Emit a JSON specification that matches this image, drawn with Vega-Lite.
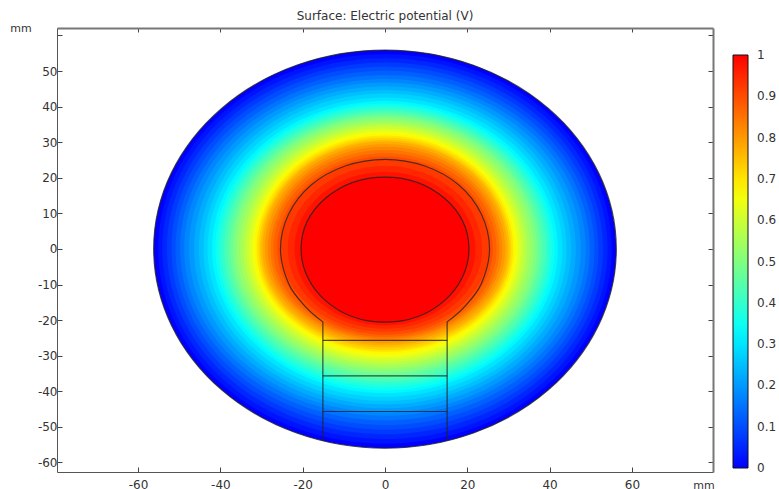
{"$schema":"https://vega.github.io/schema/vega-lite/v6.json","width":656,"height":444,"autosize":"none","padding":{"left":57,"top":28,"right":66,"bottom":17},"background":"white",
"title":{"text":"Surface: Electric potential (V)","font":"DejaVu Sans","fontSize":12,"fontWeight":"normal","color":"#333","anchor":"middle","offset":-1},
"config":{"view":{"stroke":null},"axis":{"grid":false,"labelFont":"DejaVu Sans","labelFontSize":12,"labelColor":"#333","titleFont":"DejaVu Sans","titleFontSize":11,"titleFontWeight":"normal","titleColor":"#333","domainColor":"#555","tickColor":"#444"}},
"resolve":{"axis":{"x":"independent","y":"independent"}},
"layer":[
{"data":{"values":[
{"v":0,"i":0,"x":56.2,"y":0},{"v":0,"i":1,"x":39.7,"y":39.5},{"v":0,"i":2,"x":0,"y":55.9},{"v":0,"i":3,"x":-39.7,"y":39.5},{"v":0,"i":4,"x":-56.2,"y":0},{"v":0,"i":5,"x":-39.7,"y":-39.6},{"v":0,"i":6,"x":0,"y":-56},{"v":0,"i":7,"x":39.7,"y":-39.6},
{"v":0.025,"i":0,"x":55.1,"y":0},{"v":0.025,"i":1,"x":39,"y":38.7},{"v":0.025,"i":2,"x":0,"y":54.7},{"v":0.025,"i":3,"x":-39,"y":38.7},{"v":0.025,"i":4,"x":-55.1,"y":0},{"v":0.025,"i":5,"x":-39,"y":-38.7},{"v":0.025,"i":6,"x":0,"y":-54.7},{"v":0.025,"i":7,"x":39,"y":-38.7},
{"v":0.05,"i":0,"x":54.1,"y":0},{"v":0.05,"i":1,"x":38.2,"y":37.9},{"v":0.05,"i":2,"x":0,"y":53.6},{"v":0.05,"i":3,"x":-38.2,"y":37.9},{"v":0.05,"i":4,"x":-54.1,"y":0},{"v":0.05,"i":5,"x":-38.2,"y":-37.8},{"v":0.05,"i":6,"x":0,"y":-53.4},{"v":0.05,"i":7,"x":38.2,"y":-37.8},
{"v":0.075,"i":0,"x":53,"y":0},{"v":0.075,"i":1,"x":37.5,"y":37},{"v":0.075,"i":2,"x":0,"y":52.4},{"v":0.075,"i":3,"x":-37.5,"y":37},{"v":0.075,"i":4,"x":-53,"y":0},{"v":0.075,"i":5,"x":-37.5,"y":-36.8},{"v":0.075,"i":6,"x":0,"y":-52.1},{"v":0.075,"i":7,"x":37.5,"y":-36.8},
{"v":0.1,"i":0,"x":51.9,"y":0},{"v":0.1,"i":1,"x":36.7,"y":36.3},{"v":0.1,"i":2,"x":0,"y":51.3},{"v":0.1,"i":3,"x":-36.7,"y":36.3},{"v":0.1,"i":4,"x":-51.9,"y":0},{"v":0.1,"i":5,"x":-36.7,"y":-35.9},{"v":0.1,"i":6,"x":0,"y":-50.8},{"v":0.1,"i":7,"x":36.7,"y":-35.9},
{"v":0.125,"i":0,"x":50.9,"y":0},{"v":0.125,"i":1,"x":36,"y":35.4},{"v":0.125,"i":2,"x":0,"y":50.1},{"v":0.125,"i":3,"x":-36,"y":35.4},{"v":0.125,"i":4,"x":-50.9,"y":0},{"v":0.125,"i":5,"x":-36,"y":-35},{"v":0.125,"i":6,"x":0,"y":-49.5},{"v":0.125,"i":7,"x":36,"y":-35},
{"v":0.15,"i":0,"x":49.8,"y":0},{"v":0.15,"i":1,"x":35.2,"y":34.6},{"v":0.15,"i":2,"x":0,"y":48.9},{"v":0.15,"i":3,"x":-35.2,"y":34.6},{"v":0.15,"i":4,"x":-49.8,"y":0},{"v":0.15,"i":5,"x":-35.2,"y":-34.1},{"v":0.15,"i":6,"x":0,"y":-48.2},{"v":0.15,"i":7,"x":35.2,"y":-34.1},
{"v":0.175,"i":0,"x":48.8,"y":0},{"v":0.175,"i":1,"x":34.5,"y":33.8},{"v":0.175,"i":2,"x":0,"y":47.8},{"v":0.175,"i":3,"x":-34.5,"y":33.8},{"v":0.175,"i":4,"x":-48.8,"y":0},{"v":0.175,"i":5,"x":-34.5,"y":-33.2},{"v":0.175,"i":6,"x":0,"y":-46.9},{"v":0.175,"i":7,"x":34.5,"y":-33.2},
{"v":0.2,"i":0,"x":47.6,"y":0},{"v":0.2,"i":1,"x":33.7,"y":33.1},{"v":0.2,"i":2,"x":0,"y":46.8},{"v":0.2,"i":3,"x":-33.7,"y":33.1},{"v":0.2,"i":4,"x":-47.6,"y":0},{"v":0.2,"i":5,"x":-33.7,"y":-32.5},{"v":0.2,"i":6,"x":0,"y":-45.9},{"v":0.2,"i":7,"x":33.7,"y":-32.5},
{"v":0.225,"i":0,"x":46.4,"y":0},{"v":0.225,"i":1,"x":32.8,"y":32.3},{"v":0.225,"i":2,"x":0,"y":45.7},{"v":0.225,"i":3,"x":-32.8,"y":32.3},{"v":0.225,"i":4,"x":-46.4,"y":0},{"v":0.225,"i":5,"x":-32.8,"y":-31.7},{"v":0.225,"i":6,"x":0,"y":-44.8},{"v":0.225,"i":7,"x":32.8,"y":-31.7},
{"v":0.25,"i":0,"x":45.2,"y":0},{"v":0.25,"i":1,"x":32,"y":31.6},{"v":0.25,"i":2,"x":0,"y":44.7},{"v":0.25,"i":3,"x":-32,"y":31.6},{"v":0.25,"i":4,"x":-45.2,"y":0},{"v":0.25,"i":5,"x":-32,"y":-30.9},{"v":0.25,"i":6,"x":0,"y":-43.7},{"v":0.25,"i":7,"x":32,"y":-30.9},
{"v":0.275,"i":0,"x":44.1,"y":0},{"v":0.275,"i":1,"x":31.2,"y":30.9},{"v":0.275,"i":2,"x":0,"y":43.7},{"v":0.275,"i":3,"x":-31.2,"y":30.9},{"v":0.275,"i":4,"x":-44.1,"y":0},{"v":0.275,"i":5,"x":-31.2,"y":-30.2},{"v":0.275,"i":6,"x":0,"y":-42.7},{"v":0.275,"i":7,"x":31.2,"y":-30.2},
{"v":0.3,"i":0,"x":43.1,"y":0},{"v":0.3,"i":1,"x":30.5,"y":30.1},{"v":0.3,"i":2,"x":0,"y":42.6},{"v":0.3,"i":3,"x":-30.5,"y":30.1},{"v":0.3,"i":4,"x":-43.1,"y":0},{"v":0.3,"i":5,"x":-30.5,"y":-29.4},{"v":0.3,"i":6,"x":0,"y":-41.6},{"v":0.3,"i":7,"x":30.5,"y":-29.4},
{"v":0.325,"i":0,"x":42,"y":0},{"v":0.325,"i":1,"x":29.7,"y":29.4},{"v":0.325,"i":2,"x":0,"y":41.6},{"v":0.325,"i":3,"x":-29.7,"y":29.4},{"v":0.325,"i":4,"x":-42,"y":0},{"v":0.325,"i":5,"x":-29.7,"y":-28.6},{"v":0.325,"i":6,"x":0,"y":-40.5},{"v":0.325,"i":7,"x":29.7,"y":-28.6},
{"v":0.35,"i":0,"x":41.2,"y":0},{"v":0.35,"i":1,"x":29.1,"y":28.9},{"v":0.35,"i":2,"x":0,"y":40.9},{"v":0.35,"i":3,"x":-29.1,"y":28.9},{"v":0.35,"i":4,"x":-41.2,"y":0},{"v":0.35,"i":5,"x":-29.1,"y":-28.1},{"v":0.35,"i":6,"x":0,"y":-39.7},{"v":0.35,"i":7,"x":29.1,"y":-28.1},
{"v":0.375,"i":0,"x":40.5,"y":0},{"v":0.375,"i":1,"x":28.6,"y":28.5},{"v":0.375,"i":2,"x":0,"y":40.3},{"v":0.375,"i":3,"x":-28.6,"y":28.5},{"v":0.375,"i":4,"x":-40.5,"y":0},{"v":0.375,"i":5,"x":-28.6,"y":-27.5},{"v":0.375,"i":6,"x":0,"y":-38.9},{"v":0.375,"i":7,"x":28.6,"y":-27.5},
{"v":0.4,"i":0,"x":39.8,"y":0},{"v":0.4,"i":1,"x":28.1,"y":28},{"v":0.4,"i":2,"x":0,"y":39.6},{"v":0.4,"i":3,"x":-28.1,"y":28},{"v":0.4,"i":4,"x":-39.8,"y":0},{"v":0.4,"i":5,"x":-28.1,"y":-26.9},{"v":0.4,"i":6,"x":0,"y":-38.1},{"v":0.4,"i":7,"x":28.1,"y":-26.9},
{"v":0.425,"i":0,"x":39.1,"y":0},{"v":0.425,"i":1,"x":27.6,"y":27.6},{"v":0.425,"i":2,"x":0,"y":39},{"v":0.425,"i":3,"x":-27.6,"y":27.6},{"v":0.425,"i":4,"x":-39.1,"y":0},{"v":0.425,"i":5,"x":-27.6,"y":-26.4},{"v":0.425,"i":6,"x":0,"y":-37.3},{"v":0.425,"i":7,"x":27.6,"y":-26.4},
{"v":0.45,"i":0,"x":38.3,"y":0},{"v":0.45,"i":1,"x":27.1,"y":27.1},{"v":0.45,"i":2,"x":0,"y":38.4},{"v":0.45,"i":3,"x":-27.1,"y":27.1},{"v":0.45,"i":4,"x":-38.3,"y":0},{"v":0.45,"i":5,"x":-27.1,"y":-25.8},{"v":0.45,"i":6,"x":0,"y":-36.5},{"v":0.45,"i":7,"x":27.1,"y":-25.8},
{"v":0.475,"i":0,"x":37.6,"y":0},{"v":0.475,"i":1,"x":26.6,"y":26.7},{"v":0.475,"i":2,"x":0,"y":37.8},{"v":0.475,"i":3,"x":-26.6,"y":26.7},{"v":0.475,"i":4,"x":-37.6,"y":0},{"v":0.475,"i":5,"x":-26.6,"y":-25.2},{"v":0.475,"i":6,"x":0,"y":-35.7},{"v":0.475,"i":7,"x":26.6,"y":-25.2},
{"v":0.5,"i":0,"x":36.9,"y":0},{"v":0.5,"i":1,"x":26.1,"y":26.3},{"v":0.5,"i":2,"x":0,"y":37.2},{"v":0.5,"i":3,"x":-26.1,"y":26.3},{"v":0.5,"i":4,"x":-36.9,"y":0},{"v":0.5,"i":5,"x":-26.1,"y":-24.7},{"v":0.5,"i":6,"x":0,"y":-34.9},{"v":0.5,"i":7,"x":26.1,"y":-24.7},
{"v":0.525,"i":0,"x":36.1,"y":0},{"v":0.525,"i":1,"x":25.5,"y":25.8},{"v":0.525,"i":2,"x":0,"y":36.5},{"v":0.525,"i":3,"x":-25.5,"y":25.8},{"v":0.525,"i":4,"x":-36.1,"y":0},{"v":0.525,"i":5,"x":-25.5,"y":-24.1},{"v":0.525,"i":6,"x":0,"y":-34.1},{"v":0.525,"i":7,"x":25.5,"y":-24.1},
{"v":0.55,"i":0,"x":35.2,"y":0},{"v":0.55,"i":1,"x":24.9,"y":25.3},{"v":0.55,"i":2,"x":0,"y":35.8},{"v":0.55,"i":3,"x":-24.9,"y":25.3},{"v":0.55,"i":4,"x":-35.2,"y":0},{"v":0.55,"i":5,"x":-24.9,"y":-23.6},{"v":0.55,"i":6,"x":0,"y":-33.4},{"v":0.55,"i":7,"x":24.9,"y":-23.6},
{"v":0.575,"i":0,"x":34.4,"y":0},{"v":0.575,"i":1,"x":24.3,"y":24.8},{"v":0.575,"i":2,"x":0,"y":35.1},{"v":0.575,"i":3,"x":-24.3,"y":24.8},{"v":0.575,"i":4,"x":-34.4,"y":0},{"v":0.575,"i":5,"x":-24.3,"y":-23},{"v":0.575,"i":6,"x":0,"y":-32.6},{"v":0.575,"i":7,"x":24.3,"y":-23},
{"v":0.6,"i":0,"x":33.7,"y":0},{"v":0.6,"i":1,"x":23.8,"y":24.4},{"v":0.6,"i":2,"x":0,"y":34.5},{"v":0.6,"i":3,"x":-23.8,"y":24.4},{"v":0.6,"i":4,"x":-33.7,"y":0},{"v":0.6,"i":5,"x":-23.8,"y":-22.6},{"v":0.6,"i":6,"x":0,"y":-31.9},{"v":0.6,"i":7,"x":23.8,"y":-22.6},
{"v":0.625,"i":0,"x":33,"y":0},{"v":0.625,"i":1,"x":23.3,"y":23.9},{"v":0.625,"i":2,"x":0,"y":33.8},{"v":0.625,"i":3,"x":-23.3,"y":23.9},{"v":0.625,"i":4,"x":-33,"y":0},{"v":0.625,"i":5,"x":-23.3,"y":-22},{"v":0.625,"i":6,"x":0,"y":-31.1},{"v":0.625,"i":7,"x":23.3,"y":-22},
{"v":0.65,"i":0,"x":32.3,"y":0},{"v":0.65,"i":1,"x":22.8,"y":23.4},{"v":0.65,"i":2,"x":0,"y":33.1},{"v":0.65,"i":3,"x":-22.8,"y":23.4},{"v":0.65,"i":4,"x":-32.3,"y":0},{"v":0.65,"i":5,"x":-22.8,"y":-21.5},{"v":0.65,"i":6,"x":0,"y":-30.4},{"v":0.65,"i":7,"x":22.8,"y":-21.5},
{"v":0.675,"i":0,"x":31.7,"y":0},{"v":0.675,"i":1,"x":22.4,"y":23},{"v":0.675,"i":2,"x":0,"y":32.5},{"v":0.675,"i":3,"x":-22.4,"y":23},{"v":0.675,"i":4,"x":-31.7,"y":0},{"v":0.675,"i":5,"x":-22.4,"y":-20.9},{"v":0.675,"i":6,"x":0,"y":-29.6},{"v":0.675,"i":7,"x":22.4,"y":-20.9},
{"v":0.7,"i":0,"x":31.2,"y":0},{"v":0.7,"i":1,"x":22.1,"y":22.6},{"v":0.7,"i":2,"x":0,"y":31.9},{"v":0.7,"i":3,"x":-22.1,"y":22.6},{"v":0.7,"i":4,"x":-31.2,"y":0},{"v":0.7,"i":5,"x":-22.1,"y":-20.5},{"v":0.7,"i":6,"x":0,"y":-29},{"v":0.7,"i":7,"x":22.1,"y":-20.5},
{"v":0.725,"i":0,"x":30.7,"y":0},{"v":0.725,"i":1,"x":21.7,"y":22.1},{"v":0.725,"i":2,"x":0,"y":31.3},{"v":0.725,"i":3,"x":-21.7,"y":22.1},{"v":0.725,"i":4,"x":-30.7,"y":0},{"v":0.725,"i":5,"x":-21.7,"y":-20.1},{"v":0.725,"i":6,"x":0,"y":-28.4},{"v":0.725,"i":7,"x":21.7,"y":-20.1},
{"v":0.75,"i":0,"x":30.3,"y":0},{"v":0.75,"i":1,"x":21.4,"y":21.7},{"v":0.75,"i":2,"x":0,"y":30.7},{"v":0.75,"i":3,"x":-21.4,"y":21.7},{"v":0.75,"i":4,"x":-30.3,"y":0},{"v":0.75,"i":5,"x":-21.4,"y":-19.6},{"v":0.75,"i":6,"x":0,"y":-27.7},{"v":0.75,"i":7,"x":21.4,"y":-19.6},
{"v":0.775,"i":0,"x":29.8,"y":0},{"v":0.775,"i":1,"x":21.1,"y":21.4},{"v":0.775,"i":2,"x":0,"y":30.2},{"v":0.775,"i":3,"x":-21.1,"y":21.4},{"v":0.775,"i":4,"x":-29.8,"y":0},{"v":0.775,"i":5,"x":-21.1,"y":-19.2},{"v":0.775,"i":6,"x":0,"y":-27.1},{"v":0.775,"i":7,"x":21.1,"y":-19.2},
{"v":0.8,"i":0,"x":29.2,"y":0},{"v":0.8,"i":1,"x":20.6,"y":20.9},{"v":0.8,"i":2,"x":0,"y":29.5},{"v":0.8,"i":3,"x":-20.6,"y":20.9},{"v":0.8,"i":4,"x":-29.2,"y":0},{"v":0.8,"i":5,"x":-20.6,"y":-18.7},{"v":0.8,"i":6,"x":0,"y":-26.5},{"v":0.8,"i":7,"x":20.6,"y":-18.7},
{"v":0.825,"i":0,"x":28.5,"y":0},{"v":0.825,"i":1,"x":20.1,"y":20.3},{"v":0.825,"i":2,"x":0,"y":28.7},{"v":0.825,"i":3,"x":-20.1,"y":20.3},{"v":0.825,"i":4,"x":-28.5,"y":0},{"v":0.825,"i":5,"x":-20.1,"y":-18.2},{"v":0.825,"i":6,"x":0,"y":-25.8},{"v":0.825,"i":7,"x":20.1,"y":-18.2},
{"v":0.85,"i":0,"x":27.8,"y":0},{"v":0.85,"i":1,"x":19.7,"y":19.7},{"v":0.85,"i":2,"x":0,"y":27.8},{"v":0.85,"i":3,"x":-19.7,"y":19.7},{"v":0.85,"i":4,"x":-27.8,"y":0},{"v":0.85,"i":5,"x":-19.7,"y":-17.9},{"v":0.85,"i":6,"x":0,"y":-25.3},{"v":0.85,"i":7,"x":19.7,"y":-17.9},
{"v":0.875,"i":0,"x":27.1,"y":0},{"v":0.875,"i":1,"x":19.2,"y":19},{"v":0.875,"i":2,"x":0,"y":26.9},{"v":0.875,"i":3,"x":-19.2,"y":19},{"v":0.875,"i":4,"x":-27.1,"y":0},{"v":0.875,"i":5,"x":-19.2,"y":-17.5},{"v":0.875,"i":6,"x":0,"y":-24.7},{"v":0.875,"i":7,"x":19.2,"y":-17.5},
{"v":0.9,"i":0,"x":26.2,"y":0},{"v":0.9,"i":1,"x":18.5,"y":18.4},{"v":0.9,"i":2,"x":0,"y":26},{"v":0.9,"i":3,"x":-18.5,"y":18.4},{"v":0.9,"i":4,"x":-26.2,"y":0},{"v":0.9,"i":5,"x":-18.5,"y":-17},{"v":0.9,"i":6,"x":0,"y":-24.1},{"v":0.9,"i":7,"x":18.5,"y":-17},
{"v":0.925,"i":0,"x":25.2,"y":0},{"v":0.925,"i":1,"x":17.8,"y":17.7},{"v":0.925,"i":2,"x":0,"y":25},{"v":0.925,"i":3,"x":-17.8,"y":17.7},{"v":0.925,"i":4,"x":-25.2,"y":0},{"v":0.925,"i":5,"x":-17.8,"y":-16.5},{"v":0.925,"i":6,"x":0,"y":-23.3},{"v":0.925,"i":7,"x":17.8,"y":-16.5},
{"v":0.95,"i":0,"x":23.6,"y":0},{"v":0.95,"i":1,"x":16.7,"y":16.5},{"v":0.95,"i":2,"x":0,"y":23.4},{"v":0.95,"i":3,"x":-16.7,"y":16.5},{"v":0.95,"i":4,"x":-23.6,"y":0},{"v":0.95,"i":5,"x":-16.7,"y":-15.8},{"v":0.95,"i":6,"x":0,"y":-22.4},{"v":0.95,"i":7,"x":16.7,"y":-15.8},
{"v":0.975,"i":0,"x":22,"y":0},{"v":0.975,"i":1,"x":15.6,"y":15.3},{"v":0.975,"i":2,"x":0,"y":21.7},{"v":0.975,"i":3,"x":-15.6,"y":15.3},{"v":0.975,"i":4,"x":-22,"y":0},{"v":0.975,"i":5,"x":-15.6,"y":-15.2},{"v":0.975,"i":6,"x":0,"y":-21.5},{"v":0.975,"i":7,"x":15.6,"y":-15.2},
{"v":1,"i":0,"x":20.4,"y":0},{"v":1,"i":1,"x":14.4,"y":14.3},{"v":1,"i":2,"x":0,"y":20.2},{"v":1,"i":3,"x":-14.4,"y":14.3},{"v":1,"i":4,"x":-20.4,"y":0},{"v":1,"i":5,"x":-14.4,"y":-14.6},{"v":1,"i":6,"x":0,"y":-20.6},{"v":1,"i":7,"x":14.4,"y":-14.6}
]},
"mark":{"type":"line","interpolate":"cardinal-closed","tension":-0.125,"strokeWidth":0,"clip":true},
"encoding":{
"x":{"field":"x","type":"quantitative","scale":{"domain":[-79.7,79.7],"nice":false,"zero":false},"axis":{"orient":"bottom","values":[-60,-40,-20,0,20,40,60],"labelExpr":"''+datum.value","tickSize":-5,"labelPadding":12,"title":"mm","titleX":646.5,"titleY":7,"domainWidth":1}},
"y":{"field":"y","type":"quantitative","scale":{"domain":[-62.7,62.1],"nice":false,"zero":false},"axis":{"orient":"left","values":[-60,-50,-40,-30,-20,-10,0,10,20,30,40,50,60],"labelExpr":"datum.value==60?'':''+datum.value","tickSize":-5,"labelPadding":5,"title":"mm","titleAngle":0,"titleX":-36.5,"titleY":5,"domainWidth":1}},
"detail":{"field":"v","type":"nominal"},
"order":{"field":"i","type":"quantitative"},
"fill":{"field":"v","type":"quantitative","scale":{"domain":[0,1],"range":["#0000ff","#00ffff","#ffff00","#ff0000"],"interpolate":"rgb"},
"legend":{"title":null,"orient":"none","legendX":676,"legendY":27,"direction":"vertical","gradientLength":413,"gradientThickness":15,"gradientStrokeColor":"#111","gradientStrokeWidth":1,"values":[0.001,0.1,0.2,0.3,0.4,0.5,0.6,0.7,0.8,0.9,0.999],"labelExpr":"datum.value<0.01?'0':datum.value>0.99?'1':format(datum.value,'.1f')","labelFont":"DejaVu Sans","labelFontSize":12,"labelColor":"#333","labelOffset":9,"labelOverlap":false}}
}},
{"data":{"values":[
{"s":"a","i":0,"x":15.1,"y":-20.5},{"s":"a","i":1,"x":19.3,"y":-16.3},{"s":"a","i":2,"x":23.4,"y":-9.8},{"s":"a","i":3,"x":25.4,"y":0},{"s":"a","i":4,"x":23.4,"y":9.8},{"s":"a","i":5,"x":18,"y":17.9},{"s":"a","i":6,"x":9.7,"y":23.3},{"s":"a","i":7,"x":0,"y":25.2},{"s":"a","i":8,"x":-9.7,"y":23.3},{"s":"a","i":9,"x":-18,"y":17.9},{"s":"a","i":10,"x":-23.4,"y":9.8},{"s":"a","i":11,"x":-25.4,"y":0},{"s":"a","i":12,"x":-23.4,"y":-9.8},{"s":"a","i":13,"x":-19.3,"y":-16.3},{"s":"a","i":14,"x":-15.1,"y":-20.5}
]},
"mark":{"type":"line","interpolate":"cardinal","stroke":"#222","strokeWidth":1.2,"strokeOpacity":0.8},
"encoding":{"x":{"field":"x","type":"quantitative","axis":{"orient":"top","values":[-60,-40,-20,0,20,40,60],"tickSize":-4,"labels":false,"title":null,"domainWidth":2,"domainColor":"#777"}},"y":{"field":"y","type":"quantitative","axis":{"orient":"right","values":[-60,-50,-40,-30,-20,-10,0,10,20,30,40,50,60],"tickSize":-5,"labels":false,"title":null,"domainWidth":2,"domainColor":"#777"}},"detail":{"field":"s","type":"nominal"},"order":{"field":"i","type":"quantitative"}}},
{"data":{"values":[
{"s":"o","i":0,"x":56.2,"y":0},{"s":"o","i":1,"x":39.7,"y":39.5},{"s":"o","i":2,"x":0,"y":55.9},{"s":"o","i":3,"x":-39.7,"y":39.5},{"s":"o","i":4,"x":-56.2,"y":0},{"s":"o","i":5,"x":-39.7,"y":-39.6},{"s":"o","i":6,"x":0,"y":-56},{"s":"o","i":7,"x":39.7,"y":-39.6},
{"s":"e","i":0,"x":20.4,"y":0},{"s":"e","i":1,"x":14.4,"y":14.3},{"s":"e","i":2,"x":0,"y":20.2},{"s":"e","i":3,"x":-14.4,"y":14.3},{"s":"e","i":4,"x":-20.4,"y":0},{"s":"e","i":5,"x":-14.4,"y":-14.6},{"s":"e","i":6,"x":0,"y":-20.6},{"s":"e","i":7,"x":14.4,"y":-14.6}
]},
"mark":{"type":"line","interpolate":"cardinal-closed","tension":-0.125,"stroke":"#222","strokeWidth":1.2,"strokeOpacity":0.8},
"encoding":{"x":{"field":"x","type":"quantitative","axis":null},"y":{"field":"y","type":"quantitative","axis":null},"detail":{"field":"s","type":"nominal"},"order":{"field":"i","type":"quantitative"}}},
{"data":{"values":[
{"s":"l","i":0,"x":-15.1,"y":-20.5},{"s":"l","i":1,"x":-15.1,"y":-53.9},{"s":"r","i":0,"x":15.1,"y":-20.5},{"s":"r","i":1,"x":15.1,"y":-53.9},
{"s":"h1","i":0,"x":-15.1,"y":-25.7},{"s":"h1","i":1,"x":15.1,"y":-25.7},{"s":"h2","i":0,"x":-15.1,"y":-35.7},{"s":"h2","i":1,"x":15.1,"y":-35.7},{"s":"h3","i":0,"x":-15.1,"y":-45.7},{"s":"h3","i":1,"x":15.1,"y":-45.7}
]},
"mark":{"type":"line","stroke":"#222","strokeWidth":1.2,"strokeOpacity":0.8},
"encoding":{"x":{"field":"x","type":"quantitative","axis":null},"y":{"field":"y","type":"quantitative","axis":null},"detail":{"field":"s","type":"nominal"},"order":{"field":"i","type":"quantitative"}}}
]}
